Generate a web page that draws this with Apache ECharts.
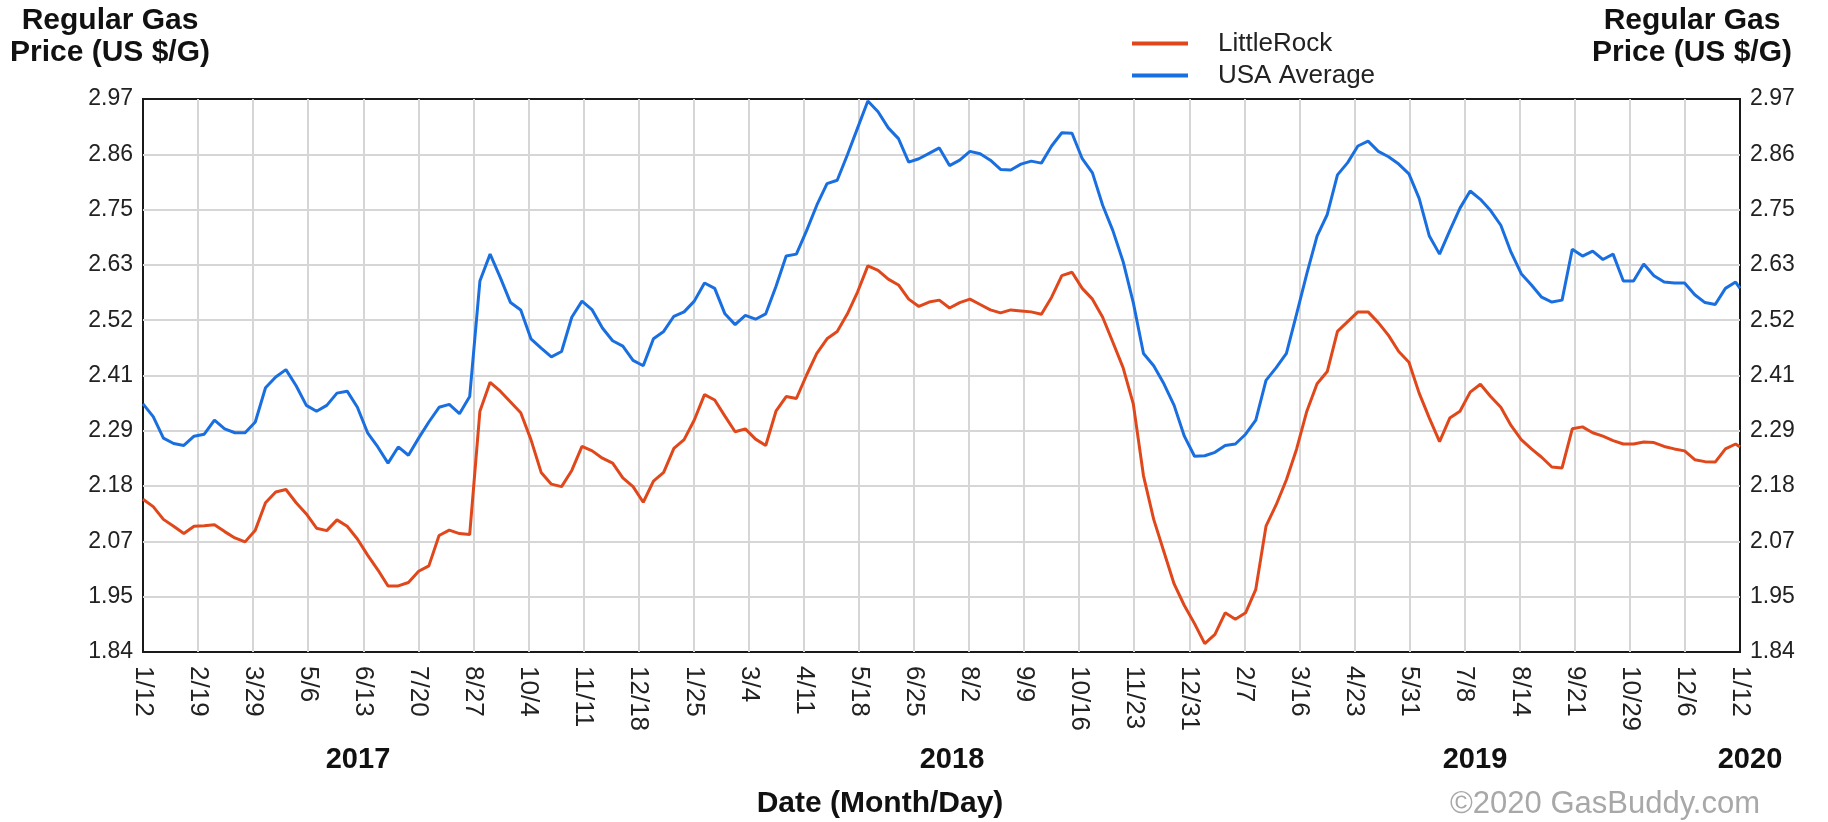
<!DOCTYPE html>
<html>
<head>
<meta charset="utf-8">
<title>Regular Gas Price - LittleRock vs USA Average</title>
<script src="https://cdn.jsdelivr.net/npm/echarts@6/dist/echarts.min.js"></script>
<style>
  html, body { margin: 0; padding: 0; background: #fff; }
  #chart { width: 1828px; height: 822px; }
</style>
</head>
<body>
<div id="chart"></div>
<script>
// tick labels
const xTicks = ['1/12', '2/19', '3/29', '5/6', '6/13', '7/20', '8/27', '10/4', '11/11', '12/18',
  '1/25', '3/4', '4/11', '5/18', '6/25', '8/2', '9/9', '10/16', '11/23', '12/31',
  '2/7', '3/16', '4/23', '5/31', '7/8', '8/14', '9/21', '10/29', '12/6', '1/12']
const yTicks = ['1.84', '1.95', '2.07', '2.18', '2.29', '2.41', '2.52', '2.63', '2.75', '2.86', '2.97']
const years = ['2017', '2018', '2019', '2020']

// weekly readings from 2017-01-12, last point is 2020-01-12
const littleRock = [
  2.152, 2.137, 2.111, 2.097, 2.082, 2.097, 2.098, 2.100, 2.086, 2.073, 2.065, 2.089, 2.145, 2.167,
  2.172, 2.145, 2.122, 2.093, 2.088, 2.110, 2.097, 2.071, 2.038, 2.008, 1.975, 1.975, 1.982,
  2.005, 2.016, 2.078, 2.089, 2.082, 2.080, 2.332, 2.391, 2.373, 2.351, 2.329, 2.274, 2.207,
  2.183, 2.178, 2.211, 2.260, 2.251, 2.236, 2.226, 2.196, 2.178, 2.146, 2.189, 2.207, 2.256,
  2.274, 2.314, 2.366, 2.355, 2.322, 2.290, 2.296, 2.275, 2.262, 2.332, 2.362, 2.358, 2.406,
  2.450, 2.480, 2.495, 2.531, 2.576, 2.629, 2.620, 2.602, 2.590, 2.561, 2.546, 2.555, 2.559,
  2.543, 2.554, 2.561, 2.550, 2.539, 2.533, 2.539, 2.537, 2.535, 2.530, 2.565, 2.609, 2.616,
  2.583, 2.561, 2.524, 2.473, 2.421, 2.347, 2.200, 2.111, 2.045, 1.979, 1.935, 1.898, 1.857,
  1.876, 1.920, 1.907, 1.920, 1.968, 2.097, 2.141, 2.192, 2.255, 2.332, 2.388, 2.413, 2.495,
  2.515, 2.535, 2.535, 2.513, 2.487, 2.454, 2.432, 2.369, 2.318, 2.270, 2.318, 2.332, 2.371, 2.387,
  2.362, 2.340, 2.303, 2.274, 2.255, 2.238, 2.218, 2.216, 2.296, 2.300, 2.288, 2.281, 2.272,
  2.265, 2.265, 2.269, 2.268, 2.260, 2.255, 2.251, 2.233, 2.229, 2.228, 2.255, 2.265,
  2.259
]
const usaAverage = [
  2.347, 2.321, 2.277, 2.266, 2.262, 2.281, 2.285, 2.314, 2.296, 2.288, 2.288, 2.310, 2.380, 2.402,
  2.417, 2.384, 2.344, 2.332, 2.344, 2.369, 2.373, 2.340, 2.288, 2.259, 2.226, 2.259, 2.242,
  2.277, 2.310, 2.340, 2.346, 2.327, 2.362, 2.598, 2.653, 2.605, 2.554, 2.539, 2.480, 2.461,
  2.443, 2.454, 2.524, 2.557, 2.539, 2.502, 2.476, 2.465, 2.436, 2.425, 2.480, 2.495, 2.526,
  2.535, 2.557, 2.594, 2.583, 2.531, 2.509, 2.528, 2.520, 2.531, 2.587, 2.649, 2.653, 2.701,
  2.753, 2.797, 2.804, 2.856, 2.911, 2.966, 2.944, 2.911, 2.889, 2.841, 2.848, 2.859, 2.870,
  2.834, 2.845, 2.863, 2.858, 2.845, 2.826, 2.825, 2.837, 2.843, 2.839, 2.874, 2.901, 2.900,
  2.848, 2.819, 2.753, 2.701, 2.638, 2.554, 2.450, 2.425, 2.388, 2.344, 2.281, 2.240, 2.241,
  2.248, 2.262, 2.265, 2.285, 2.314, 2.395, 2.421, 2.450, 2.531, 2.613, 2.690, 2.734, 2.815,
  2.840, 2.874, 2.884, 2.863, 2.852, 2.837, 2.817, 2.767, 2.690, 2.653, 2.701, 2.747, 2.782, 2.765,
  2.742, 2.712, 2.657, 2.613, 2.590, 2.565, 2.555, 2.559, 2.663, 2.649, 2.659, 2.642, 2.653,
  2.598, 2.598, 2.633, 2.609, 2.596, 2.594, 2.594, 2.570, 2.554, 2.550, 2.583, 2.596,
  2.583
]

const totalDays = 1095
const steps = xTicks.length - 1
// day offset of each reading, the x axis runs in tick units (one unit = one label step)
const sampleDays = littleRock.map((_, i) => Math.min(i * 7, totalDays))
const toPairs = vals => vals.map((v, i) => [sampleDays[i] * steps / totalDays, v])

const yMin = 1.84
const yMax = 2.97
const yStep = 0.113

const FONT = '"Liberation Sans", Arial, sans-serif'
const yLabel = v => yTicks[Math.round((v - yMin) / yStep)] || ''

const chart = echarts.init(document.getElementById('chart'))

const yAxisBase = {
  type: 'value',
  min: yMin,
  max: yMax,
  interval: yStep,
  axisLine: { show: false },
  axisTick: { show: false },
  axisLabel: { formatter: yLabel, fontFamily: FONT, fontSize: 23, color: '#222', margin: 10, showMinLabel: true, showMaxLabel: true }
}

function textEl(text, x, y, font, fill) {
  return {
    type: 'text', x: x, y: y, silent: true,
    style: { text: text, font: font, fill: fill || '#111', textAlign: 'center', align: 'center', textVerticalAlign: 'middle', verticalAlign: 'middle', lineHeight: 32 }
  }
}

const yearX = [358, 952, 1475, 1750]

const option = {
  backgroundColor: '#fff',
  animation: false,
  grid: { left: 143, right: 88, top: 99, bottom: 170, show: true, borderColor: '#1a1a1a', borderWidth: 2, backgroundColor: '#fff' },
  legend: {
    data: ['LittleRock', 'USA Average'],
    orient: 'vertical',
    left: 1127,
    top: 24,
    icon: 'rect',
    itemWidth: 56,
    itemHeight: 4,
    itemGap: 3,
    textStyle: { fontFamily: FONT, fontSize: 26, color: '#222', lineHeight: 29, padding: [0, 0, 0, 25] }
  },
  xAxis: {
    type: 'value',
    min: 0,
    max: steps,
    interval: 1,
    axisLine: { show: false },
    axisTick: { show: false },
    axisLabel: {
      rotate: -90, formatter: v => xTicks[Math.round(v)] || '',
      fontFamily: FONT, fontSize: 26, color: '#222', margin: 14,
      showMinLabel: true, showMaxLabel: true, hideOverlap: false
    },
    splitLine: { show: true, showMinLine: false, showMaxLine: false, lineStyle: { color: '#d6d6d6', width: 2 } }
  },
  yAxis: [
    Object.assign({}, yAxisBase, {
      position: 'left',
      splitLine: { show: true, showMinLine: false, showMaxLine: false, lineStyle: { color: '#d6d6d6', width: 2 } }
    }),
    Object.assign({}, yAxisBase, { position: 'right', splitLine: { show: false } })
  ],
  series: [
    {
      name: 'LittleRock', type: 'line', yAxisIndex: 0, data: toPairs(littleRock),
      showSymbol: false, symbol: 'none', lineStyle: { color: '#e0481c', width: 3 }, itemStyle: { color: '#e0481c' }
    },
    {
      name: 'USA Average', type: 'line', yAxisIndex: 0, data: toPairs(usaAverage),
      showSymbol: false, symbol: 'none', lineStyle: { color: '#1a6fe0', width: 3 }, itemStyle: { color: '#1a6fe0' }
    }
  ],
  graphic: [
    textEl('Regular Gas\nPrice (US $/G)', 110, 37, 'bold 30px ' + FONT),
    textEl('Regular Gas\nPrice (US $/G)', 1692, 37, 'bold 30px ' + FONT),
    textEl('Date (Month/Day)', 880, 804, 'bold 30px ' + FONT),
    textEl('\u00a92020 GasBuddy.com', 1605, 804, '31px ' + FONT, '#a8a8a8')
  ].concat(years.map((y, i) => textEl(y, yearX[i], 760, 'bold 29px ' + FONT)))
}

chart.setOption(option)
window.addEventListener('resize', () => chart.resize())
</script>
</body>
</html>
